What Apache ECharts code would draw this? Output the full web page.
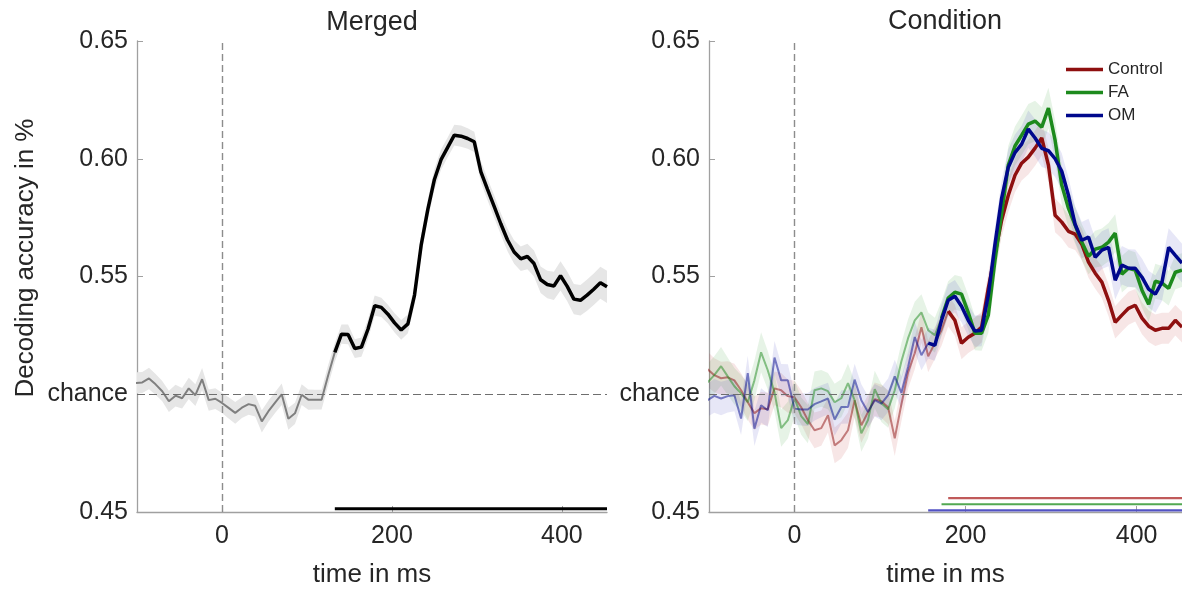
<!DOCTYPE html>
<html>
<head>
<meta charset="utf-8">
<script src="https://cdn.jsdelivr.net/npm/echarts@6/dist/echarts.min.js"></script>
<style>
html,body{margin:0;padding:0;background:#fff;}
#chart{width:1182px;height:589px;}
</style>
</head>
<body>
<div id="chart"></div>
<script>
// ---- data ----
const times = [
  -101.6,-93.8,-85.9,-78.1,-70.3,-62.5,-54.7,-46.9,-39.1,-31.3,-23.4,-15.6,
  -7.8,0,7.8,15.6,23.4,31.3,39.1,46.9,54.7,62.5,70.3,78.1,
  85.9,93.8,101.6,109.4,117.2,125,132.8,140.6,148.4,156.3,164.1,171.9,
  179.7,187.5,195.3,203.1,210.9,218.8,226.6,234.4,242.2,250,257.8,265.6,
  273.4,281.3,289.1,296.9,304.7,312.5,320.3,328.1,335.9,343.8,351.6,359.4,
  367.2,375,382.8,390.6,398.4,406.3,414.1,421.9,429.7,437.5,445.3,453.1
];
const merged = [
  0.5048,0.5050,0.5067,0.5042,0.5013,0.4970,0.4994,0.4983,0.5025,0.4996,0.5064,0.4975,
  0.4981,0.4963,0.4942,0.4921,0.4943,0.4958,0.4951,0.4885,0.4928,0.4964,0.5000,0.4896,
  0.4919,0.4998,0.4977,0.4977,0.4977,0.5081,0.5178,0.5255,0.5254,0.5194,0.5200,0.5277,
  0.5376,0.5369,0.5340,0.5303,0.5273,0.5299,0.5421,0.5633,0.5784,0.5912,0.5996,0.6048,
  0.6100,0.6096,0.6086,0.6072,0.5944,0.5870,0.5798,0.5724,0.5656,0.5604,0.5575,0.5585,
  0.5555,0.5486,0.5466,0.5460,0.5503,0.5458,0.5404,0.5399,0.5421,0.5446,0.5473,0.5456
];
const mergedSem = [
  0.0045,0.0045,0.0046,0.0044,0.0043,0.0045,0.0046,0.0044,0.0045,0.0046,0.0047,0.0045,
  0.0044,0.0043,0.0045,0.0046,0.0044,0.0045,0.0046,0.0047,0.0045,0.0044,0.0046,0.0047,
  0.0045,0.0044,0.0043,0.0042,0.0042,0.0043,0.0040,0.0041,0.0042,0.0040,0.0041,0.0042,
  0.0043,0.0041,0.0040,0.0041,0.0042,0.0040,0.0041,0.0042,0.0043,0.0044,0.0043,0.0042,
  0.0044,0.0045,0.0044,0.0043,0.0045,0.0046,0.0047,0.0046,0.0048,0.0050,0.0052,0.0054,
  0.0055,0.0056,0.0058,0.0060,0.0062,0.0063,0.0064,0.0065,0.0066,0.0067,0.0068,0.0068
];
const control = [
  0.5106,0.5081,0.5068,0.5072,0.5059,0.5017,0.4966,0.4919,0.4941,0.4936,0.5025,0.5017,
  0.4992,0.4987,0.4945,0.4890,0.4847,0.4856,0.4911,0.4783,0.4805,0.4847,0.4975,0.4868,
  0.4924,0.4979,0.4970,0.4945,0.4813,0.4958,0.5093,0.5174,0.5285,0.5161,0.5217,0.5272,
  0.5353,0.5314,0.5217,0.5242,0.5259,0.5285,0.5450,0.5595,0.5739,0.5845,0.5930,0.5981,
  0.6007,0.6045,0.6088,0.5973,0.5760,0.5731,0.5692,0.5680,0.5637,0.5561,0.5514,0.5476,
  0.5399,0.5306,0.5336,0.5365,0.5378,0.5323,0.5289,0.5272,0.5280,0.5280,0.5314,0.5285
];
const controlSem = [
  0.0075,0.0072,0.0070,0.0068,0.0070,0.0072,0.0074,0.0071,0.0069,0.0070,0.0072,0.0073,
  0.0071,0.0070,0.0072,0.0074,0.0076,0.0075,0.0073,0.0076,0.0078,0.0075,0.0072,0.0074,
  0.0073,0.0071,0.0070,0.0072,0.0075,0.0073,0.0070,0.0068,0.0066,0.0068,0.0067,0.0066,
  0.0065,0.0066,0.0068,0.0067,0.0066,0.0065,0.0066,0.0068,0.0070,0.0071,0.0072,0.0073,
  0.0074,0.0075,0.0074,0.0073,0.0072,0.0070,0.0069,0.0068,0.0067,0.0066,0.0066,0.0067,
  0.0068,0.0069,0.0070,0.0070,0.0069,0.0068,0.0067,0.0067,0.0066,0.0066,0.0065,0.0065
];
const fa = [
  0.5051,0.5081,0.5119,0.5076,0.5034,0.5004,0.4966,0.5059,0.5178,0.5102,0.5008,0.4856,
  0.4890,0.4983,0.4907,0.4873,0.5017,0.5025,0.5013,0.4966,0.4983,0.5047,0.4975,0.4834,
  0.4890,0.5021,0.4962,0.4936,0.5017,0.5140,0.5238,0.5314,0.5348,0.5272,0.5251,0.5323,
  0.5408,0.5433,0.5425,0.5348,0.5259,0.5259,0.5336,0.5569,0.5769,0.5973,0.6054,0.6100,
  0.6147,0.6160,0.6134,0.6215,0.6079,0.5888,0.5790,0.5718,0.5646,0.5586,0.5616,0.5624,
  0.5646,0.5684,0.5510,0.5535,0.5527,0.5442,0.5382,0.5480,0.5472,0.5450,0.5518,0.5527
];
const faSem = [
  0.0078,0.0080,0.0082,0.0079,0.0077,0.0078,0.0080,0.0083,0.0085,0.0082,0.0080,0.0079,
  0.0078,0.0077,0.0079,0.0081,0.0080,0.0078,0.0077,0.0079,0.0081,0.0083,0.0080,0.0078,
  0.0077,0.0079,0.0080,0.0078,0.0076,0.0078,0.0080,0.0079,0.0077,0.0075,0.0074,0.0073,
  0.0072,0.0073,0.0074,0.0073,0.0072,0.0074,0.0076,0.0078,0.0080,0.0082,0.0083,0.0084,
  0.0085,0.0086,0.0085,0.0086,0.0084,0.0082,0.0080,0.0078,0.0077,0.0076,0.0078,0.0080,
  0.0081,0.0080,0.0078,0.0077,0.0076,0.0075,0.0074,0.0074,0.0073,0.0073,0.0072,0.0072
];
const om = [
  0.4975,0.4993,0.4982,0.4992,0.4996,0.4897,0.5090,0.4854,0.4953,0.4932,0.5156,0.5059,
  0.5059,0.4939,0.4935,0.4935,0.4958,0.4970,0.4982,0.4893,0.4946,0.4946,0.5062,0.4975,
  0.4925,0.4975,0.4960,0.4996,0.5076,0.5006,0.5116,0.5243,0.5166,0.5217,0.5208,0.5314,
  0.5399,0.5416,0.5374,0.5314,0.5268,0.5272,0.5421,0.5637,0.5833,0.5964,0.6026,0.6062,
  0.6126,0.6088,0.6044,0.6034,0.6000,0.5947,0.5845,0.5722,0.5654,0.5667,0.5582,0.5612,
  0.5624,0.5484,0.5548,0.5535,0.5535,0.5497,0.5446,0.5425,0.5476,0.5624,0.5590,0.5557
];
const omSem = [
  0.0070,0.0072,0.0071,0.0069,0.0068,0.0070,0.0072,0.0074,0.0073,0.0071,0.0070,0.0069,
  0.0068,0.0067,0.0068,0.0070,0.0069,0.0068,0.0067,0.0069,0.0071,0.0070,0.0068,0.0067,
  0.0068,0.0069,0.0070,0.0071,0.0070,0.0068,0.0066,0.0065,0.0064,0.0065,0.0066,0.0067,
  0.0068,0.0069,0.0068,0.0067,0.0066,0.0068,0.0070,0.0072,0.0074,0.0076,0.0077,0.0078,
  0.0079,0.0080,0.0079,0.0078,0.0077,0.0076,0.0075,0.0076,0.0077,0.0078,0.0079,0.0080,
  0.0081,0.0082,0.0082,0.0081,0.0080,0.0079,0.0078,0.0079,0.0080,0.0081,0.0082,0.0082
];
// significance onsets (ms) and the heights of the significance bars
const sigStarts = [132.8, 179.7, 171.9, 156.3];   // merged, Control, FA, OM
const sigLevels = [0.4514, 0.4559, 0.4533, 0.4507];
const conditionNames = ['Control', 'FA', 'OM'];
const xTicks = [0, 200, 400];
const xMin = -100, xMax = 453.1;
const yMin = 0.45, yMax = 0.65, yStep = 0.05;
const chanceLevel = 0.5, onsetTime = 0;

// ---- helpers ----
const FONT = 'Liberation Sans, Arial, sans-serif';
const TXT = '#262626';
function pairs(vals, from, to) {
  const out = [];
  for (let i = from; i < to; i++) out.push([times[i], vals[i]]);
  return out;
}
function splitIndex(start) {
  return times.findIndex(t => t >= start - 1e-6);
}
function band(ax, mean, sem, color) {
  const last = times.length - 1;
  return {
    type: 'custom', xAxisIndex: ax, yAxisIndex: ax, silent: true, clip: true, z: 1,
    data: times.map((t, i) => [t, mean[i]]),
    renderItem: function (params, api) {
      if (params.dataIndex !== last) return null;
      const pts = [];
      for (let i = 0; i < times.length; i++) pts.push(api.coord([times[i], mean[i] + sem[i]]));
      for (let i = times.length - 1; i >= 0; i--) pts.push(api.coord([times[i], mean[i] - sem[i]]));
      return { type: 'polygon', shape: { points: pts }, style: { fill: color } };
    }
  };
}
function line(ax, name, data, color, width, opacity, z) {
  return {
    type: 'line', name: name, xAxisIndex: ax, yAxisIndex: ax, data: data,
    showSymbol: false, symbol: 'none', clip: true, silent: true, z: z,
    lineStyle: { color: color, width: width, opacity: opacity },
    itemStyle: { color: color }
  };
}
function sigBar(ax, start, level, color, width) {
  return line(ax, 'sig' + ax + color, [[start, level], [xMax, level]], color, width, 1, 3);
}
function xAxis(grid) {
  return {
    type: 'value', gridIndex: grid, min: xMin, max: xMax,
    name: 'time in ms', nameLocation: 'middle', nameGap: 50,
    nameTextStyle: { fontSize: 26, color: TXT, fontFamily: FONT },
    axisLine: { show: true, onZero: false, lineStyle: { color: '#a0a0a0', width: 1.3 } },
    axisTick: { show: true, inside: true, length: 6, customValues: xTicks, lineStyle: { color: '#a0a0a0' } },
    axisLabel: { show: true, customValues: xTicks, fontSize: 25, color: TXT, fontFamily: FONT, margin: 12 },
    splitLine: { show: false }
  };
}
function yAxis(grid) {
  return {
    type: 'value', gridIndex: grid, min: yMin, max: yMax, interval: yStep,
    axisLine: { show: true, onZero: false, lineStyle: { color: '#a0a0a0', width: 1.3 } },
    axisTick: { show: true, inside: true, length: 6, lineStyle: { color: '#a0a0a0' } },
    axisLabel: {
      fontSize: 25, color: TXT, fontFamily: FONT, margin: 9, padding: [5, 0, 0, 0],
      formatter: v => Math.abs(v - chanceLevel) < 1e-6 ? 'chance' : v.toFixed(2)
    },
    splitLine: { show: false }
  };
}
function refLines() {
  return {
    silent: true, symbol: 'none', animation: false, label: { show: false },
    data: [
      { xAxis: onsetTime, lineStyle: { color: '#8c8c8c', type: [7, 4], width: 1.4 } },
      { yAxis: chanceLevel, lineStyle: { color: '#6e6e6e', type: [8, 4], width: 1.2 } }
    ]
  };
}

// ---- series ----
const series = [];
// Merged panel
const mi = splitIndex(sigStarts[0]);
series.push(band(0, merged, mergedSem, '#e6e6e6'));
const mThin = line(0, 'Merged pre', pairs(merged, 0, mi + 1), '#7f7f7f', 2, 1, 4);
mThin.markLine = refLines();
series.push(mThin);
series.push(line(0, 'Merged', pairs(merged, mi, times.length), '#000000', 3.5, 1, 5));
series.push(sigBar(0, sigStarts[0], sigLevels[0], '#000000', 3));

// Condition panel
const condVals = [control, fa, om];
const condSem = [controlSem, faSem, omSem];
const condColors = ['#8e0f0f', '#1d8a1d', '#00088c'];
const bandColors = ['rgba(190,50,50,0.12)', 'rgba(50,160,50,0.12)', 'rgba(60,60,190,0.12)'];
const barColors = ['#c05a5a', '#52a852', '#5252c4'];
for (let c = 0; c < 3; c++) series.push(band(1, condVals[c], condSem[c], bandColors[c]));
for (let c = 0; c < 3; c++) {
  const si = splitIndex(sigStarts[c + 1]);
  const thin = line(1, conditionNames[c] + ' pre', pairs(condVals[c], 0, si + 1), condColors[c], 2, 0.5, 4);
  if (c === 0) thin.markLine = refLines();
  series.push(thin);
}
for (let c = 0; c < 3; c++) {
  const si = splitIndex(sigStarts[c + 1]);
  series.push(line(1, conditionNames[c], pairs(condVals[c], si, times.length), condColors[c], 3.5, 1, 6 + c));
}
for (let c = 0; c < 3; c++) series.push(sigBar(1, sigStarts[c + 1], sigLevels[c + 1], barColors[c], 2.2));

const chart = echarts.init(document.getElementById('chart'), null, { renderer: 'canvas' });
chart.setOption({
  animation: false,
  backgroundColor: '#ffffff',
  textStyle: { fontFamily: FONT },
  grid: [
    { left: 137, top: 41, width: 470, height: 471, containLabel: false, outerBoundsMode: 'none' },
    { left: 709, top: 41, width: 473, height: 471, containLabel: false, outerBoundsMode: 'none' }
  ],
  xAxis: [xAxis(0), xAxis(1)],
  yAxis: [yAxis(0), yAxis(1)],
  legend: {
    data: conditionNames, orient: 'vertical', left: 1061, top: 56,
    icon: 'rect', itemWidth: 37, itemHeight: 3.5, itemGap: 6, selectedMode: false,
    textStyle: { fontSize: 17, color: TXT, fontFamily: FONT }
  },
  graphic: [
    { type: 'text', x: 372, y: 23, style: { text: 'Merged', fill: TXT, font: '27px ' + FONT, textAlign: 'center', textVerticalAlign: 'middle' } },
    { type: 'text', x: 945, y: 22, style: { text: 'Condition', fill: TXT, font: '27px ' + FONT, textAlign: 'center', textVerticalAlign: 'middle' } },
    { type: 'text', x: 26, y: 258, rotation: Math.PI / 2, style: { text: 'Decoding accuracy in %', fill: TXT, font: '26px ' + FONT, textAlign: 'center', textVerticalAlign: 'middle' } }
  ],
  series: series
});
</script>
</body>
</html>
